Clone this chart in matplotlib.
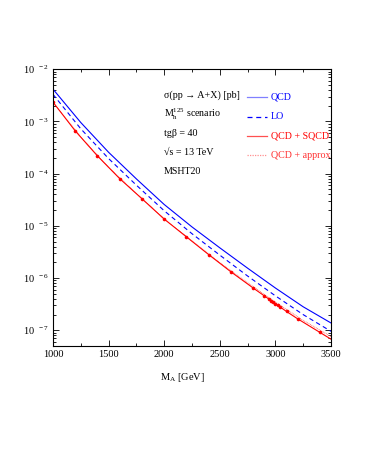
import numpy as np
import matplotlib.pyplot as plt
from matplotlib.ticker import LogLocator, MultipleLocator, NullFormatter

plt.rcParams['font.family'] = ['Liberation Serif', 'DejaVu Serif']
plt.rcParams['mathtext.fontset'] = 'custom'
plt.rcParams['mathtext.rm'] = 'Liberation Serif'
plt.rcParams['mathtext.it'] = 'Liberation Serif:italic'
plt.rcParams['mathtext.default'] = 'regular'

# grid of masses for the smooth curves
m_grid = [1000, 1250, 1500, 1750, 2000, 2250, 2500, 2750, 3000, 3250, 3500]
log_qcd = [-2.38, -3.02, -3.59, -4.10, -4.59, -5.02, -5.42, -5.81, -6.19, -6.55, -6.86]
log_lo = [-2.48, -3.14, -3.71, -4.22, -4.71, -5.15, -5.56, -5.96, -6.34, -6.70, -7.02]
log_approx = [-2.63, -3.30, -3.88, -4.38, -4.865, -5.29, -5.70, -6.09, -6.46, -6.81, -7.12]

# QCD + SQCD points (markers)
m_sqcd = [1000, 1200, 1400, 1600, 1800, 2000, 2200, 2400, 2600, 2800, 2900,
          2940, 2960, 2980, 3000, 3020, 3040, 3100, 3200, 3400, 3500]
log_sqcd = [-2.63, -3.18, -3.66, -4.095, -4.48, -4.87, -5.21, -5.55, -5.88, -6.19, -6.34,
            -6.40, -6.43, -6.46, -6.49, -6.52, -6.55, -6.64, -6.78, -7.04, -7.17]

W, H = 366, 473
fig = plt.figure(figsize=(W / 100, H / 100), dpi=100)
ax = fig.add_axes([53 / W, 1 - 346 / H, (331 - 53) / W, (346 - 69.3) / H])

ax.plot(m_grid, 10 ** np.array(log_qcd), color='#0000ff', lw=0.8)
ax.plot(m_grid, 10 ** np.array(log_lo), color='#0000ff', lw=0.8, ls=(0, (4, 3)))
ax.plot(m_grid, 10 ** np.array(log_approx), color='#ff5050', lw=0.6, ls=(0, (1, 1)))
ax.plot(m_sqcd, 10 ** np.array(log_sqcd), color='#ff0000', lw=0.8)
ax.plot(m_sqcd[:-1], 10 ** np.array(log_sqcd[:-1]), 'o', color='#ff0000', ms=2.6, mew=0)

ax.set_yscale('log')
ax.set_xlim(1000, 3500)
ax.set_ylim(5e-8, 1e-2)
ax.xaxis.set_major_locator(MultipleLocator(500))
ax.xaxis.set_minor_locator(MultipleLocator(250))
ax.yaxis.set_major_locator(LogLocator(base=10, numticks=20))
ax.yaxis.set_minor_locator(LogLocator(base=10, subs=np.arange(2, 10), numticks=20))
ax.yaxis.set_minor_formatter(NullFormatter())
yt = [1e-7, 1e-6, 1e-5, 1e-4, 1e-3, 1e-2]
ax.set_yticks(yt, [r'$10^{\ \ %d}$' % int(np.log10(v)) for v in yt])
ax.tick_params(which='both', direction='in', top=True, right=True,
               labelsize=7.5, width=0.6, pad=3)
ax.tick_params(which='major', length=4)
ax.tick_params(which='minor', length=2)
for s in ax.spines.values():
    s.set_linewidth(0.8)

ax.text(0.5, 1 - 377 / H, r'$M_A$ [GeV]', transform=fig.transFigure,
        ha='center', va='center', fontsize=7.5)

fs = 7.2
info = [(95, r'σ(pp → A+X) [pb]'), (114, r'$M_h^{125}$ scenario'),
        (133, 'tgβ = 40'), (152, '√s = 13 TeV'), (171, 'MSHT20')]
for y, t in info:
    fig.text(164 / W, 1 - y / H, t, ha='left', va='center', fontsize=fs)

leg = [(96.7, 'QCD', '#0000ff', '-', '#8080ff'),
       (116.7, 'LO', '#0000ff', (0, (4, 3)), '#0000ff'),
       (135.7, 'QCD + SQCD', '#ff0000', '-', '#ff5050'),
       (155, 'QCD + approx', '#ff3030', (0, (1, 1)), '#ff9090')]
for y, t, c, ls, lc in leg:
    fig.add_artist(plt.Line2D([247 / W, 267 / W], [1 - y / H, 1 - y / H],
                              color=lc, ls=ls, lw=0.9, transform=fig.transFigure))
    fig.text(271 / W, 1 - y / H, t, ha='left', va='center', fontsize=fs, color=c)

fig.savefig('out.png', dpi=100)
